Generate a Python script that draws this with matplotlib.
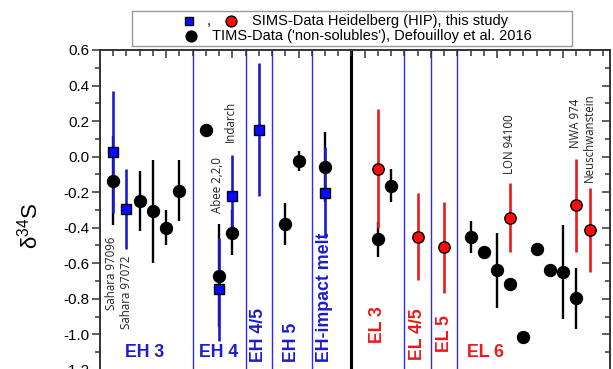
import numpy as np
import matplotlib
matplotlib.use('Agg')
from matplotlib import pyplot as plt
from matplotlib.lines import Line2D
from matplotlib.patches import Rectangle

plt.rcParams['font.family'] = 'Liberation Sans'

# TIMS data ('non-solubles'), Defouilloy et al. 2016 -- black circles
tims_x = [1, 3, 4, 5, 6, 8, 9, 10, 14, 15, 17, 21, 22, 28, 29, 30, 31, 32, 33, 34, 35, 36]
tims_y = [-0.135, -0.249, -0.307, -0.399, -0.191, 0.152, -0.671, -0.429, -0.380, -0.025, -0.058,
          -0.466, -0.165, -0.452, -0.539, -0.639, -0.719, -1.013, -0.521, -0.639, -0.650, -0.798]
tims_err = [0.25, 0.17, 0.29, 0.10, 0.17, 0.0, 0.29, 0.126, 0.118, 0.058, 0.196,
            0.10, 0.093, 0.09, 0.0, 0.212, 0.0, 0.0, 0.0, 0.0, 0.265, 0.172]

# SIMS-Data Heidelberg, EH chondrites -- blue squares
eh_x = [1, 2, 9, 10, 12, 17]
eh_y = [0.026, -0.292, -0.747, -0.223, 0.152, -0.203]
eh_err = [0.345, 0.225, 0.29, 0.23, 0.375, 0.255]

# SIMS-Data Heidelberg, EL chondrites -- red circles
el_x = [21, 24, 26, 31, 36, 37]
el_y = [-0.067, -0.452, -0.511, -0.343, -0.274, -0.414]
el_err = [0.335, 0.245, 0.257, 0.195, 0.26, 0.238]

# group separators
blue_bounds = [7, 11, 13, 16, 23, 25, 27]
eh_el_bound = 19

# sample names (rotated)
sample_names = ['Sahara 97096', 'Sahara 97072', 'Abee 2,2,0', 'Indarch', 'LON 94100', 'NWA 974', 'Neuschwanstein']
sample_x = [0.85, 2.0, 8.88, 9.83, 30.97, 35.95, 37.0]
sample_y = [-0.45, -0.555, -0.32, 0.082, -0.096, 0.047, -0.143]
sample_va = ['top', 'top', 'bottom', 'bottom', 'bottom', 'bottom', 'bottom']

# petrologic types
types_h = ['EH 3', 'EH 4', 'EL 6']
types_h_x = [3.4, 9.0, 29.15]
types_h_col = ['b', 'b', 'r']
types_v = ['EH 4/5', 'EH 5', 'EH-impact melt', 'EL 3', 'EL 4/5', 'EL 5']
types_v_x = [11.95, 14.5, 17.0, 21.0, 24.0, 26.0]
types_v_y = [-1.154, -1.154, -1.154, -1.049, -1.144, -1.098]
types_v_col = ['b', 'b', 'b', 'r', 'r', 'r']

yticks = [-1.2, -1.0, -0.8, -0.6, -0.4, -0.2, 0.0, 0.2, 0.4, 0.6]

BLUE = '#1c1cd0'
RED = '#ec1a1a'
cols = {'b': BLUE, 'r': RED}

W, H = 613, 369
fig = plt.figure(figsize=(W / 100, H / 100), dpi=100)
ax = fig.add_axes([100 / W, -0.0024, 509.5 / W, 0.8669])
ax.set_xlim(0, 38.5)
ax.set_ylim(-1.2, 0.6)

for xb in blue_bounds:
    ax.axvline(xb, color='#2a2aff', lw=1.0, zorder=1)
ax.axvline(eh_el_bound, color='black', lw=2.2, zorder=1)

ax.errorbar(tims_x, tims_y, yerr=tims_err, fmt='none', ecolor='black', elinewidth=1.7, zorder=2)
ax.errorbar(eh_x, eh_y, yerr=eh_err, fmt='none', ecolor=BLUE, elinewidth=1.9, zorder=3)
ax.errorbar(el_x, el_y, yerr=el_err, fmt='none', ecolor=RED, elinewidth=1.9, zorder=3)
ax.plot(tims_x, tims_y, 'o', color='black', ms=8.6, zorder=4)
ax.plot(eh_x, eh_y, 's', mfc='#0a0aff', mec='black', mew=1.0, ms=7.0, zorder=5)
ax.plot(el_x, el_y, 'o', mfc='#ff0a0a', mec='black', mew=1.0, ms=8.2, zorder=5)

for name, x, y, va in zip(sample_names, sample_x, sample_y, sample_va):
    ax.text(x, y, name, rotation=90, ha='center', va=va, fontsize=8.3,
            family='Open Sans', color='#222222', zorder=6)

for name, x, c in zip(types_h, types_h_x, types_h_col):
    ax.text(x, -1.10, name, ha='center', va='center', fontsize=12.8,
            fontweight='bold', color=cols[c], zorder=6)
for name, x, y, c in zip(types_v, types_v_x, types_v_y, types_v_col):
    ax.text(x, y, name, rotation=90, ha='center', va='bottom', fontsize=12.8,
            fontweight='bold', color=cols[c], zorder=6)

# axes / ticks
ax.set_yticks(yticks)
ax.set_yticks(np.arange(-1.1, 0.6, 0.2), minor=True)
ax.set_yticklabels(['%.1f' % v for v in yticks])
ax.set_xticks(np.arange(5, 38.5, 5))
ax.set_xticks(np.arange(1, 38.5, 1), minor=True)
ax.tick_params(axis='y', which='both', left=True, right=False, direction='out',
               labelsize=11, pad=1.5, width=1.1, color='#333333')
ax.tick_params(axis='y', which='major', length=6)
ax.tick_params(axis='y', which='minor', length=3.5)
ax.tick_params(axis='x', which='both', bottom=False, top=True, labelbottom=False,
               labeltop=False, direction='in', width=1.1, color='#333333')
ax.tick_params(axis='x', which='major', length=6)
ax.tick_params(axis='x', which='minor', length=4)

axr = ax.twinx()
axr.set_ylim(ax.get_ylim())
axr.set_yticks(yticks)
axr.set_yticks(np.arange(-1.1, 0.6, 0.2), minor=True)
axr.tick_params(axis='y', which='both', direction='in', labelright=False, width=1.1, color='#333333')
axr.tick_params(axis='y', which='major', length=6)
axr.tick_params(axis='y', which='minor', length=3.5)
for a in (ax, axr):
    for s in a.spines.values():
        s.set_linewidth(1.2)
        s.set_color('#333333')

fig.text(30 / W, 1 - 226 / H, r'$\mathregular{\delta^{34}S}$', rotation=90,
         ha='center', va='center', fontsize=16)

# legend box
def fx(px):
    return px / W

def fy(py):
    return 1 - py / H

fig.patches.append(Rectangle((fx(131.7), fy(46)), fx(571.7) - fx(131.7), fy(11) - fy(46),
                             transform=fig.transFigure, facecolor='white',
                             edgecolor='#999999', lw=1.0, zorder=10))
fig.add_artist(Line2D([fx(189.3)], [fy(20.7)], marker='s', ms=6.2, mfc='#0a0aff', mec='black',
                      mew=1.0, transform=fig.transFigure, zorder=11))
fig.text(fx(208.3), fy(21), ',', ha='center', va='center', fontsize=10.5, zorder=11)
fig.add_artist(Line2D([fx(231)], [fy(20.7)], marker='o', ms=7.8, mfc='#ff0a0a', mec='black',
                      mew=1.0, transform=fig.transFigure, zorder=11))
fig.text(fx(252), fy(20.7), 'SIMS-Data Heidelberg (HIP), this study', ha='left', va='center',
         fontsize=10.5, zorder=11)
fig.add_artist(Line2D([fx(190.7)], [fy(35.7)], marker='o', ms=7.8, color='black',
                      transform=fig.transFigure, zorder=11))
fig.text(fx(212), fy(35.7), "TIMS-Data ('non-solubles'), Defouilloy et al. 2016", ha='left',
         va='center', fontsize=10.5, zorder=11)

fig.savefig('out.png', dpi=100)
